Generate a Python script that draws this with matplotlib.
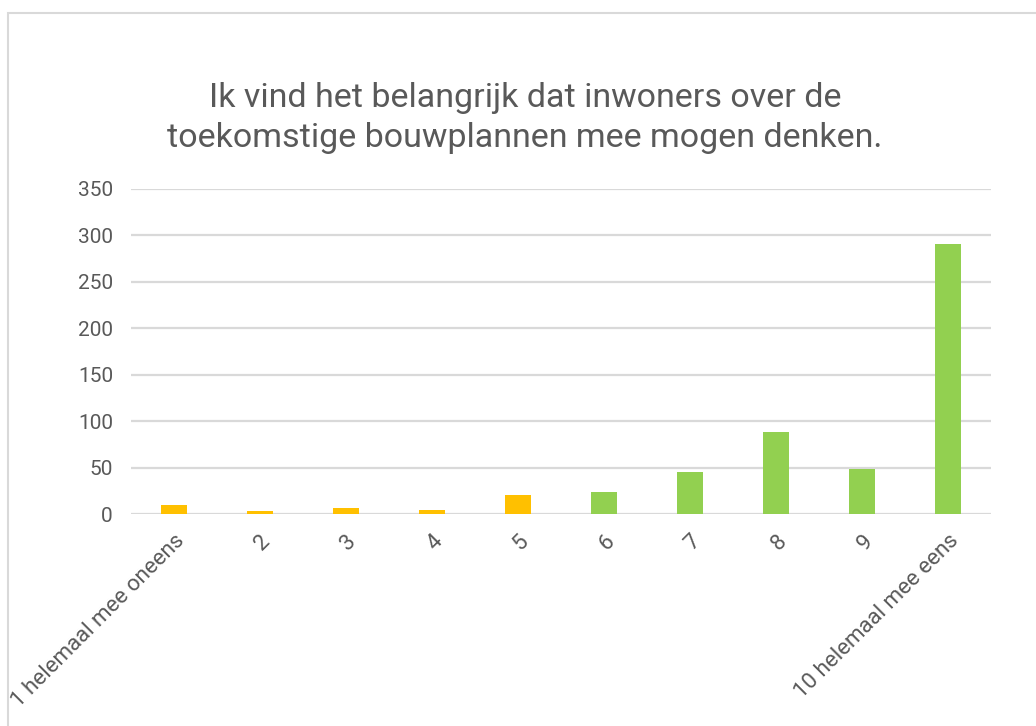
"""Bar chart: survey answers on citizen participation in building plans"""
import numpy as np
import matplotlib.pyplot as plt
from matplotlib.patches import Rectangle

# Data
categories = ["1 helemaal mee oneens", "2", "3", "4", "5", "6", "7", "8", "9",
              "10 helemaal mee eens"]
counts = [10, 3, 6, 4, 20, 24, 45, 88, 49, 291]
colors = ["#FFC000"] * 5 + ["#92D050"] * 5
yticks = [0, 50, 100, 150, 200, 250, 300, 350]
title = "Ik vind het belangrijk dat inwoners over de\ntoekomstige bouwplannen mee mogen denken."

txt = "#595959"
grid = "#D9D9D9"
plt.rcParams['font.family'] = ['Roboto', 'DejaVu Sans']

W, H = 1036, 726
fig = plt.figure(figsize=(W/100, H/100), dpi=100)

# chart frame (light grey border, runs off the right/bottom edge)
fig.patches.append(Rectangle((8/W, -0.05), 1.1, (H-13)/H + 0.05,
                             transform=fig.transFigure, fill=False,
                             edgecolor=grid, linewidth=1.5))

ax = fig.add_axes([131/W, 212/H, 860/W, 325/H])
x = np.arange(len(categories))
ax.bar(x, counts, width=0.31, color=colors, zorder=3)

ax.set_xlim(-0.5, len(categories) - 0.5)
ax.set_ylim(0, 350)
ax.set_yticks(yticks)
ax.set_yticklabels([str(v) for v in yticks], fontsize=15, color=txt)
ax.set_xticks(x)
ax.set_xticklabels(categories, rotation=45, ha='right', va='top',
                   rotation_mode='anchor', fontsize=16, color=txt)
ax.tick_params(axis='y', length=0, pad=13)
ax.tick_params(axis='x', length=0, pad=12)
ax.yaxis.grid(True, color=grid, linewidth=1.6, zorder=0)
for s in ax.spines.values():
    s.set_visible(False)

fig.text(525/W, 1 - 118/H, title, ha='center', va='center', fontsize=24.5,
         color=txt, linespacing=1.3)

fig.savefig("out.png", dpi=100)
